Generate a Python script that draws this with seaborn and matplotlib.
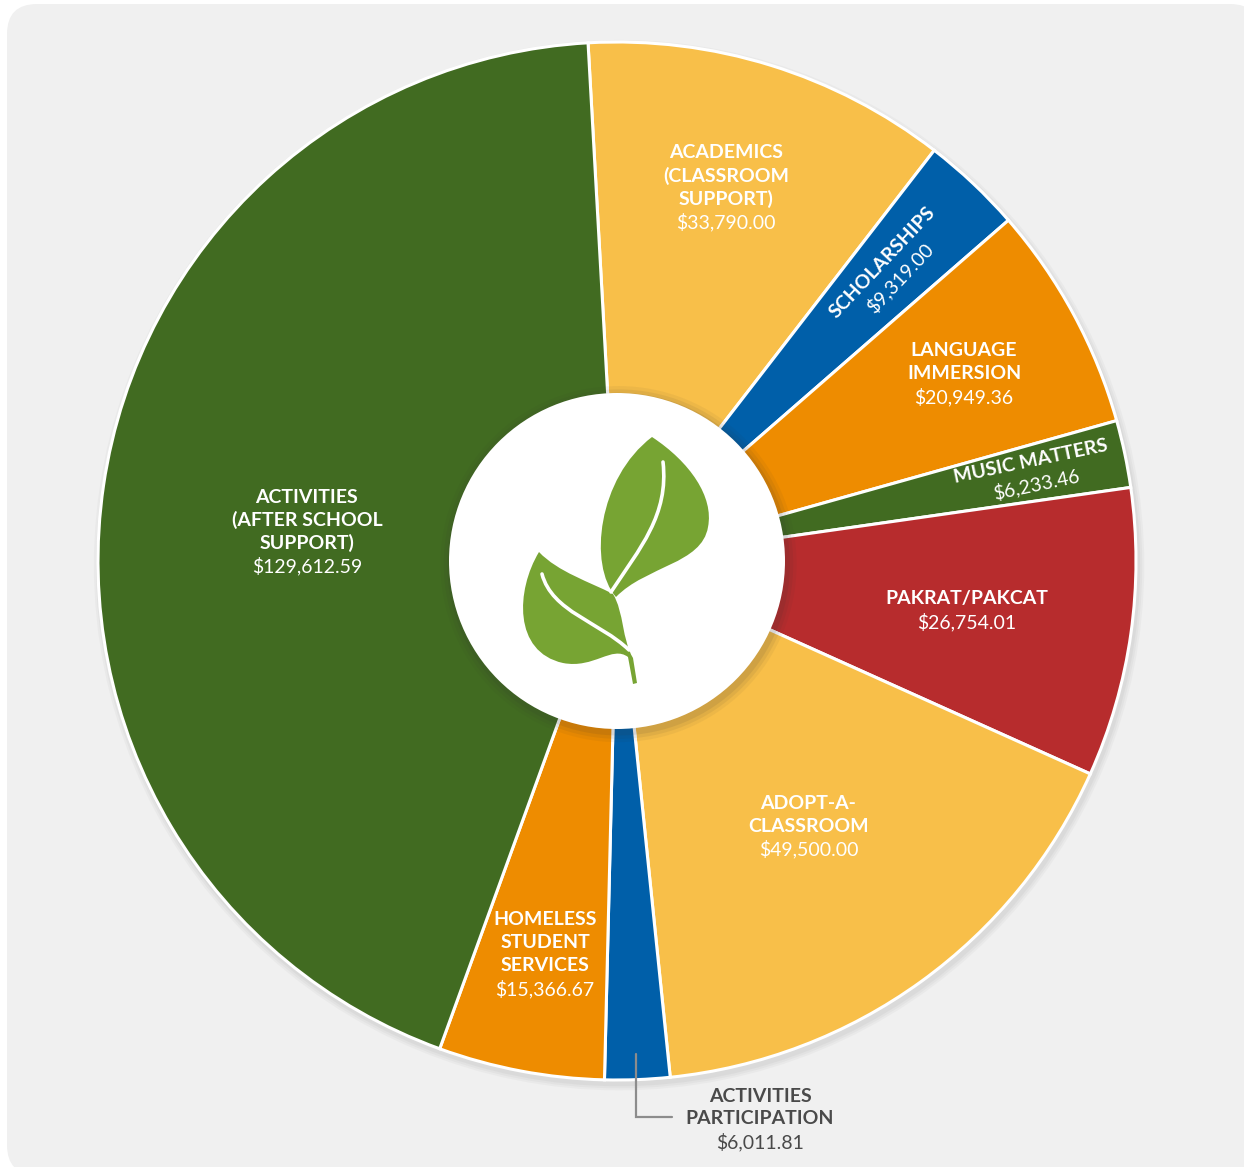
import numpy as np
import matplotlib.pyplot as plt
import seaborn as sns
from matplotlib.patches import Circle, FancyBboxPatch, PathPatch
from matplotlib.path import Path

# ---- data ----
categories = [
    "ACADEMICS\n(CLASSROOM\nSUPPORT)",
    "SCHOLARSHIPS",
    "LANGUAGE\nIMMERSION",
    "MUSIC MATTERS",
    "PAKRAT/PAKCAT",
    "ADOPT-A-\nCLASSROOM",
    "ACTIVITIES\nPARTICIPATION",
    "HOMELESS\nSTUDENT\nSERVICES",
    "ACTIVITIES\n(AFTER SCHOOL\nSUPPORT)",
]
amounts = [33790.00, 9319.00, 20949.36, 6233.46, 26754.01,
           49500.00, 6011.81, 15366.67, 129612.59]
colors = ["#F8BF49", "#005FA9", "#EE8C00", "#416B21", "#B72C2D",
          "#F8BF49", "#005FA9", "#EE8C00", "#416B21"]

# ---- layout (pixels of the 1244x1167 canvas) ----
W, H = 1244, 1167
CX, CY, S = 617, 561, 519          # pie centre and radius in px


def px(x, y):
    return (x - CX) / S, (CY - y) / S


sns.set_theme(style="white")
plt.rcParams["font.family"] = ["Lato", "DejaVu Sans"]

fig = plt.figure(figsize=(W / 100, H / 100), dpi=100, facecolor="white")
ax = fig.add_axes([0, 0, 1, 1])
ax.set_axis_off()

# rounded grey card
x0, y0 = px(7, 1175)
x1, y1 = px(1260, 4)
card = FancyBboxPatch((x0, y0), x1 - x0, y1 - y0,
                      boxstyle="round,pad=0,rounding_size=%f" % (30 / S),
                      facecolor="#F0F0F0", edgecolor="none", zorder=0)
ax.add_patch(card)

# soft shadow under the pie
for k, a in [(1.012, 0.05), (1.008, 0.06), (1.004, 0.07)]:
    ax.add_patch(Circle((0.004, -0.008), k, color="#7a7a7a", alpha=a,
                        lw=0, zorder=1))

wedges, _ = ax.pie(amounts, colors=colors, startangle=93.2, counterclock=False,
                   radius=1, center=(0, 0),
                   wedgeprops=dict(edgecolor="white", linewidth=2.2))
for w in wedges:
    w.set_zorder(2)

# centre hole with faint shadow
hole_r = 168 / S
for k, a in [(1.06, 0.05), (1.04, 0.07), (1.02, 0.09)]:
    ax.add_patch(Circle((0.003, -0.006), hole_r * k, color="#333333",
                        alpha=a, lw=0, zorder=3))
ax.add_patch(Circle((0, 0), hole_r, color="white", lw=0, zorder=4))

# labels
label_r = [0.75, 0.77, 0.76, 0.82, 0.68, 0.63, None, 0.77, 0.60]
label_da = [1.0, 0, 0, 0, 0, 0, 0, 0.3, 3.0]   # small angular nudges (deg)
rotate = [False, True, False, True, False, False, False, False, False]
fs = 14
step = 23 / S

for w, name, val, r, da, rot in zip(wedges, categories, amounts,
                                    label_r, label_da, rotate):
    if r is None:
        continue
    mid = np.deg2rad((w.theta1 + w.theta2) / 2 + da)
    cx, cy = r * np.cos(mid), r * np.sin(mid)
    lines = name.split("\n") + ["${:,.2f}".format(val)]
    n = len(lines)
    ang = np.rad2deg(mid) if rot else 0
    dx, dy = np.sin(np.deg2rad(ang)), -np.cos(np.deg2rad(ang))
    for i, line in enumerate(lines):
        off = (i - (n - 1) / 2) * step
        ax.text(cx + dx * off, cy + dy * off, line, ha="center", va="center",
                rotation=ang, rotation_mode="anchor", color="white",
                fontsize=fs, fontweight="bold" if i < n - 1 else "normal",
                zorder=6)

# outside label for Activities Participation
ap = wedges[6]
lx, ly = px(760, 1119)
ap_lines = categories[6].split("\n") + ["${:,.2f}".format(amounts[6])]
for i, line in enumerate(ap_lines):
    ax.text(lx, ly + (1 - i) * step, line, ha="center", va="center",
            color="#4A4A4A", fontsize=fs,
            fontweight="bold" if i < 2 else "normal", zorder=6)
mid = np.deg2rad((ap.theta1 + ap.theta2) / 2)
sx, sy = 0.95 * np.cos(mid), 0.95 * np.sin(mid)
ex, ey = px(672, 1117)
ax.plot([sx, sx, ex], [sy, ey, ey], color="#8C8C8C", lw=1.6,
        solid_joinstyle="miter", zorder=5)

# leaf icon
leaf = "#77A433"
M, C4, L, CL = Path.MOVETO, Path.CURVE4, Path.LINETO, Path.CLOSEPOLY
upper = [((616, 597), M),
         ((588, 565), C4), ((598, 478), C4), ((652, 437), C4),
         ((690, 462), C4), ((714, 497), C4), ((708, 527), C4),
         ((702, 564), C4), ((646, 566), C4), ((616, 597), C4),
         ((616, 597), CL)]
lower = [((539, 552), M),
         ((516, 590), C4), ((513, 652), C4), ((563, 663), C4),
         ((594, 669), C4), ((612, 645), C4), ((628, 657), C4),
         ((633, 684), L), ((637, 683), L), ((633, 658), L),
         ((622, 640), C4), ((624, 612), C4), ((613, 594), C4),
         ((590, 582), C4), ((558, 572), C4), ((539, 552), C4),
         ((539, 552), CL)]
for shape in (upper, lower):
    verts = [px(*p) for p, _ in shape]
    codes = [c for _, c in shape]
    ax.add_patch(PathPatch(Path(verts, codes), facecolor=leaf,
                           edgecolor="none", zorder=7))

# leaf veins
veins = [[(663, 462), (669, 515), (640, 548), (611, 592)],
         [(542, 574), (552, 612), (600, 622), (629, 650)]]
for vein in veins:
    vp = Path([px(*p) for p in vein], [M, C4, C4, C4])
    ax.add_patch(PathPatch(vp, facecolor="none", edgecolor="white", lw=2.6,
                           capstyle="round", zorder=8))

ax.set_xlim((0 - CX) / S, (W - CX) / S)
ax.set_ylim((CY - H) / S, CY / S)
ax.set_aspect("auto")

fig.savefig("out.png", dpi=100, facecolor="white")
